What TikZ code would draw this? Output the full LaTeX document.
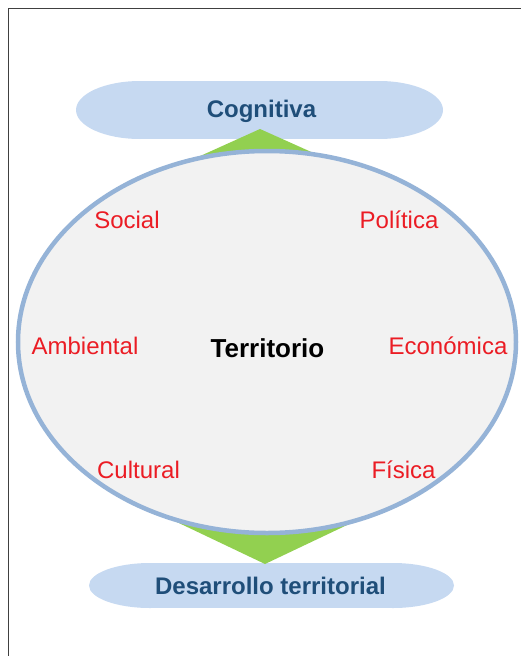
\documentclass[tikz,border=0pt]{standalone}
\usepackage{fontspec}
\setmainfont{Liberation Sans}
\definecolor{capfill}{HTML}{C6D9F1}
\definecolor{capText}{HTML}{1F4E79}
\definecolor{ringcol}{HTML}{95B3D7}
\definecolor{innerfill}{HTML}{F2F2F2}
\definecolor{greenT}{HTML}{92D050}
\definecolor{labred}{RGB}{235,28,36}
\definecolor{framecol}{HTML}{404040}
\tikzset{
  lab/.style={anchor=base, inner sep=0pt, text=labred, font=\fontsize{24}{28}\selectfont},
  captxt/.style={anchor=base, inner sep=0pt, text=capText, font=\fontsize{24}{28}\selectfont\bfseries},
  maintxt/.style={anchor=base, inner sep=0pt, text=black, font=\fontsize{26}{30}\selectfont\bfseries},
}
\begin{document}
\begin{tikzpicture}[x=1pt,y=-1pt]
\useasboundingbox (0,0) rectangle (521,656);
% frame
\draw[framecol, line width=1.3pt] (8.5,656) -- (8.5,8.8) -- (521,8.8);
% top capsule
\fill[capfill] (140,81) rectangle (379,139);
\fill[capfill] (140,110) ellipse [x radius=64, y radius=29];
\fill[capfill] (379,110) ellipse [x radius=64, y radius=29];
% bottom capsule
\fill[capfill] (150,563) rectangle (393,608);
\fill[capfill] (150,585.5) ellipse [x radius=61, y radius=22.5];
\fill[capfill] (393,585.5) ellipse [x radius=61, y radius=22.5];
% green triangles
\coordinate (ctr) at (267,342);
\coordinate (topapex) at (260,129);
\coordinate (botapex) at (265,564);
\fill[greenT] (topapex) -- (188,161.5) -- (ctr) -- (318,155) -- cycle;
\fill[greenT] (botapex) -- (170,518.8) -- (ctr) -- (357,520.3) -- cycle;
% main ellipse
\draw[ringcol, fill=innerfill, line width=4.5pt] (ctr) ellipse [x radius=249, y radius=191];
% texts
\node[captxt] (cog) at (261.5,117) {Cognitiva};
\node[captxt] (des) at (270.5,594) {Desarrollo territorial};
\node[maintxt] (ter) at (267.5,357) {Territorio};
\node[lab] (soc) at (127,228) {Social};
\node[lab] (pol) at (399,228) {Política};
\node[lab] (amb) at (85,354) {Ambiental};
\node[lab] (eco) at (448,354) {Económica};
\node[lab] (cul) at (138.5,478) {Cultural};
\node[lab] (fis) at (403.5,478) {Física};
\end{tikzpicture}
\end{document}
